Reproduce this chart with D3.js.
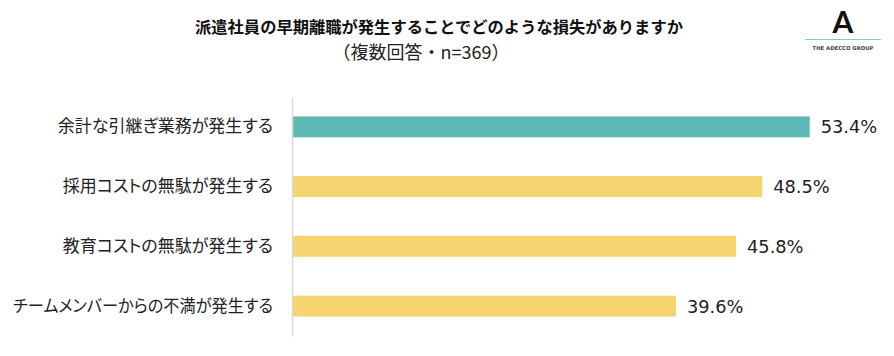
<!DOCTYPE html>
<html><head><meta charset="utf-8">
<script src="https://cdn.jsdelivr.net/npm/d3@7"></script>
<style>body{margin:0;background:#fff}svg{display:block}.jp{font-feature-settings:"palt" 1}</style>
</head><body>
<script>
const categories = ["余計な引継ぎ業務が発生する","採用コストの無駄が発生する","教育コストの無駄が発生する","チームメンバーからの不満が発生する"];
const values = [53.4, 48.5, 45.8, 39.6];
const highlight = [true, false, false, false];
const title = "派遣社員の早期離職が発生することでどのような損失がありますか";
const subtitle = "（複数回答・n=369）";

const W = 894, H = 356;
const svg = d3.select("body").append("svg").attr("width", W).attr("height", H);
const font = "'Noto Sans CJK JP', 'Noto Sans', sans-serif";

const x = d3.scaleLinear().domain([0, 60]).range([292, 873.7]);
const y = d3.scaleBand().domain(categories).range([97, 336]).paddingInner(0.65).paddingOuter(0.325);

svg.append("text").attr("x", 439).attr("y", 27).attr("dy", "0.35em").attr("text-anchor", "middle")
  .attr("font-family", font).attr("font-weight", "bold").attr("font-size", 16.3).attr("fill", "#111").text(title);
svg.append("text").attr("x", 421).attr("y", 53).attr("dy", "0.35em").attr("text-anchor", "middle")
  .attr("font-family", font).attr("font-size", 18).attr("fill", "#222").text(subtitle);

// logo
const logo = svg.append("g");
logo.append("text").attr("x", 843).attr("y", 33).attr("text-anchor", "middle")
  .attr("font-family", "Lato, 'DejaVu Sans', sans-serif").attr("font-weight", "bold").attr("font-size", 30).attr("fill", "#111").text("A");
logo.append("line").attr("x1", 805).attr("x2", 881).attr("y1", 39.5).attr("y2", 39.5)
  .attr("stroke", "#7fd0c4").attr("stroke-width", 1);
logo.append("text").attr("x", 843).attr("y", 48.5).attr("dy", "0.35em").attr("text-anchor", "middle")
  .attr("font-family", "'DejaVu Sans', sans-serif").attr("font-size", 5.3).attr("font-weight", "bold").attr("fill", "#444").text("THE ADECCO GROUP");

// bars
svg.selectAll("rect.bar").data(categories).join("rect").attr("class", "bar")
  .attr("x", x(0)).attr("y", d => y(d)).attr("height", y.bandwidth())
  .attr("width", (d, i) => x(values[i]) - x(0))
  .attr("fill", (d, i) => highlight[i] ? "#5db9b3" : "#f5d46f");

// axis
const axis = svg.append("g").attr("transform", `translate(${x(0)},0)`)
  .call(d3.axisLeft(y).tickSize(0).tickPadding(19));
axis.select(".domain").attr("stroke", "#d9d9d9").attr("stroke-width", 1.5);
axis.selectAll("text").attr("class", "jp").attr("font-family", font).attr("font-size", 17).attr("fill", "#222")
  .each(function () {
    const w = this.getComputedTextLength();
    if (w > 260) this.setAttribute("textLength", 260), this.setAttribute("lengthAdjust", "spacingAndGlyphs");
  });

// value labels
svg.selectAll("text.val").data(categories).join("text").attr("class", "val")
  .attr("x", (d, i) => x(values[i]) + 11).attr("y", d => y(d) + y.bandwidth() / 2).attr("dy", "0.36em")
  .attr("font-family", "'DejaVu Sans', sans-serif").attr("font-size", 17.8).attr("fill", "#222")
  .text((d, i) => values[i].toFixed(1) + "%");
</script>
</body></html>
